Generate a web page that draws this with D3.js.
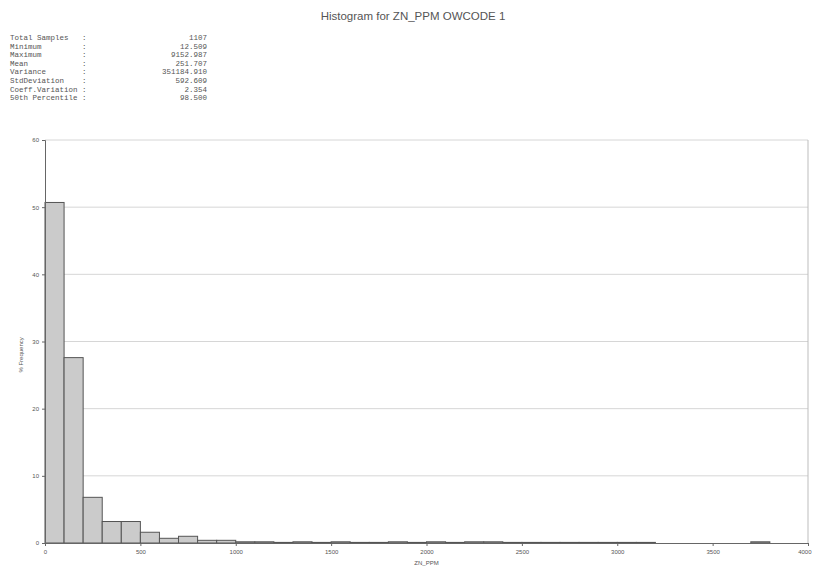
<!DOCTYPE html>
<html>
<head>
<meta charset="utf-8">
<script src="https://cdn.jsdelivr.net/npm/d3@7/dist/d3.min.js"></script>
<style>
  html, body { margin: 0; padding: 0; background: #fff; }
  svg { display: block; }
</style>
</head>
<body>
<script>
// Histogram of ZN_PPM, 100 ppm bins from 0 to 4000
const binStarts = d3.range(0, 4000, 100);
const binWidth = 100;
const frequencies = [
  50.7, 27.6, 6.8, 3.2, 3.2, 1.6, 0.7, 1.0, 0.4, 0.4,
  0.18, 0.18, 0.09, 0.18, 0.09, 0.18, 0.09, 0.09, 0.18, 0.09,
  0.18, 0.09, 0.18, 0.18, 0.09, 0.09, 0.09, 0.09, 0.09, 0.09,
  0.09, 0.09, 0, 0, 0, 0, 0, 0.18, 0, 0
];
const xTicks = [0, 500, 1000, 1500, 2000, 2500, 3000, 3500, 4000];
const yTicks = [0, 10, 20, 30, 40, 50, 60];

const statLabels = ["Total Samples", "Minimum", "Maximum", "Mean", "Variance",
                    "StdDeviation", "Coeff.Variation", "50th Percentile"];
const statValues = ["1107", "12.509", "9152.987", "251.707", "351184.910",
                    "592.609", "2.354", "98.500"];

const W = 813, H = 570;
const margin = { left: 45, right: 5, top: 140, bottom: 27 };

const svg = d3.select("body").append("svg")
  .attr("width", W).attr("height", H);

const x = d3.scaleLinear().domain([0, 4000]).range([margin.left, W - margin.right]);
const y = d3.scaleLinear().domain([0, 60]).range([H - margin.bottom, margin.top]);

// Title
svg.append("text")
  .attr("x", 413).attr("y", 20)
  .attr("text-anchor", "middle")
  .attr("font-family", "Liberation Sans, Arial, sans-serif")
  .attr("font-size", 11.5)
  .attr("fill", "#555")
  .text("Histogram for ZN_PPM OWCODE 1");

// Summary statistics block
const stats = svg.append("g")
  .attr("font-family", "Liberation Mono, DejaVu Sans Mono, monospace")
  .attr("font-size", 7.5)
  .attr("fill", "#555");
statLabels.forEach((lab, i) => {
  const yy = 40 + i * 8.6;
  stats.append("text").attr("x", 10).attr("y", yy).text(lab);
  stats.append("text").attr("x", 82).attr("y", yy).text(":");
  stats.append("text").attr("x", 207).attr("y", yy)
    .attr("text-anchor", "end").text(statValues[i]);
});

// Horizontal grid lines
svg.append("g")
  .selectAll("line")
  .data(yTicks.filter(d => d > 0))
  .join("line")
  .attr("x1", x(0)).attr("x2", x(4000))
  .attr("y1", d => y(d)).attr("y2", d => y(d))
  .attr("stroke", "#d6d6d6").attr("stroke-width", 1);

// Right border of plot area
svg.append("line")
  .attr("x1", x(4000)).attr("x2", x(4000))
  .attr("y1", y(60)).attr("y2", y(0))
  .attr("stroke", "#bdbdbd");

// Bars
svg.append("g")
  .selectAll("rect")
  .data(binStarts.map((b, i) => ({ b, v: frequencies[i] })).filter(d => d.v > 0))
  .join("rect")
  .attr("x", d => x(d.b))
  .attr("width", d => x(d.b + binWidth) - x(d.b))
  .attr("y", d => y(d.v))
  .attr("height", d => y(0) - y(d.v))
  .attr("fill", "#cbcbcb")
  .attr("stroke", "#555")
  .attr("stroke-width", 1);

// Axes
const xAxis = d3.axisBottom(x).tickValues(xTicks).tickSize(3).tickFormat(d3.format("d"));
const yAxis = d3.axisLeft(y).tickValues(yTicks).tickSize(3).tickFormat(d3.format("d"));

const gx = svg.append("g")
  .attr("transform", `translate(0,${y(0)})`)
  .call(xAxis);
const gy = svg.append("g")
  .attr("transform", `translate(${x(0)},0)`)
  .call(yAxis);

[gx, gy].forEach(g => {
  g.select(".domain").attr("stroke", "#666");
  g.selectAll(".tick line").attr("stroke", "#666");
  g.selectAll(".tick text")
    .attr("font-family", "Liberation Sans, Arial, sans-serif")
    .attr("font-size", 6)
    .attr("fill", "#555");
});
gx.selectAll(".tick text").attr("dy", "0.9em");
// keep the last x label inside the page
gx.selectAll(".tick text").filter(d => d === 4000).attr("text-anchor", "end").attr("dx", 3);

// Axis titles
svg.append("text")
  .attr("x", x(2000)).attr("y", 565)
  .attr("text-anchor", "middle")
  .attr("font-family", "Liberation Sans, Arial, sans-serif")
  .attr("font-size", 6)
  .attr("fill", "#555")
  .text("ZN_PPM");

svg.append("text")
  .attr("transform", `translate(23,${y(28)}) rotate(-90)`)
  .attr("text-anchor", "middle")
  .attr("font-family", "Liberation Sans, Arial, sans-serif")
  .attr("font-size", 6)
  .attr("fill", "#555")
  .text("% Frequency");
</script>
</body>
</html>
